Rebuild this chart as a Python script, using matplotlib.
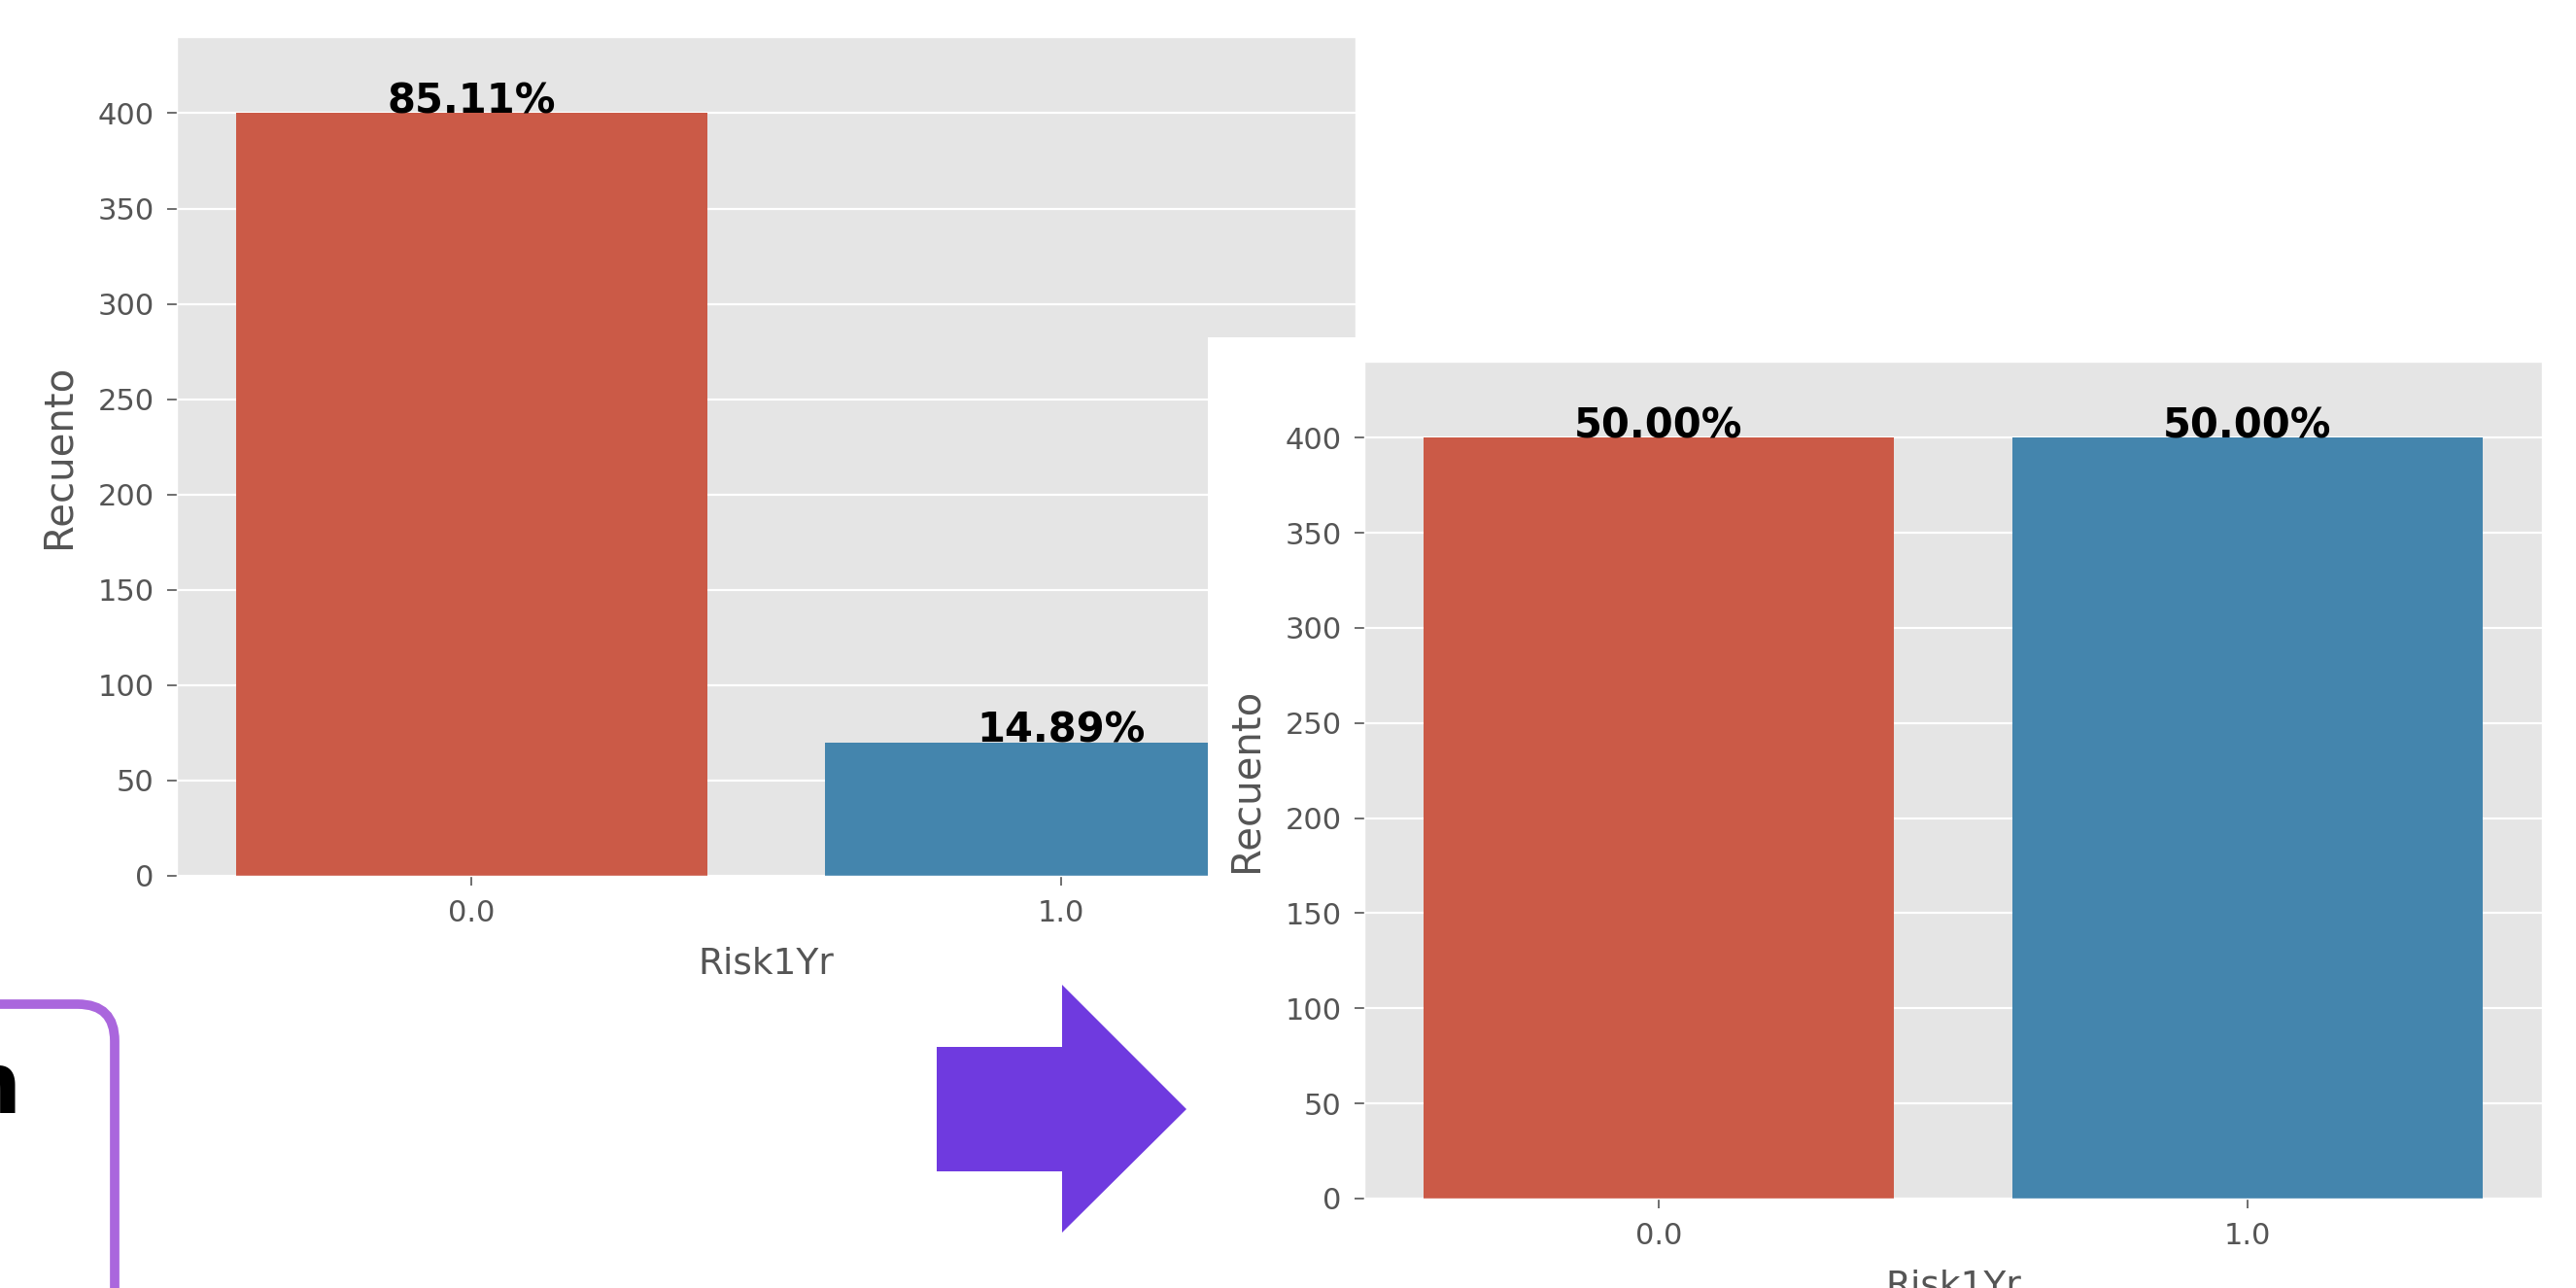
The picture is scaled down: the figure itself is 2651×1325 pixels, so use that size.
import numpy as np
import matplotlib
matplotlib.use("Agg")
import matplotlib.pyplot as plt
from matplotlib.patches import Rectangle, Polygon, FancyBboxPatch
from matplotlib.transforms import Affine2D

# ---- data ----
categories = ["0.0", "1.0"]
counts_before = [400, 70]     # original class balance
counts_after = [400, 400]     # after resampling
bar_colors = ["#CB5A47", "#4485AD"]

W, H = 2651, 1325
DPI = 100

plt.style.use("ggplot")
fig = plt.figure(figsize=(W / DPI, H / DPI), dpi=DPI)

# pixel coords (origin top-left) -> display
px = Affine2D().scale(1 / DPI, -1 / DPI).translate(0, H / DPI) + fig.dpi_scale_trans


def box(x0, y0, x1, y1):
    # axes rect in figure fraction from pixel box
    return [x0 / W, 1 - y1 / H, (x1 - x0) / W, (y1 - y0) / H]


def draw_counts(ax, counts):
    x = np.arange(len(categories))
    ax.bar(x, counts, width=0.8, color=bar_colors, linewidth=0)
    total = sum(counts)
    for xi, c in zip(x, counts):
        ax.text(xi, c, f"{100 * c / total:.2f}%", ha="center", va="baseline",
                fontsize=30, fontweight="bold", color="black")
    ax.set_xticks(x)
    ax.set_xticklabels(categories)
    ax.set_xlim(-0.5, 1.5)
    ax.set_ylim(0, 440)
    ax.set_yticks(np.arange(0, 401, 50))
    ax.grid(True, color="white", lw=1.6)
    ax.grid(False, axis="x")
    ax.tick_params(labelsize=22, length=7, width=1.2, pad=10, colors="#555555")
    ax.set_xlabel("Risk1Yr", fontsize=27, color="#555555", labelpad=14)
    ax.set_ylabel("Recuento", fontsize=29, color="#555555", labelpad=14)


# ---- left chart: before ----
ax1 = fig.add_axes(box(182, 38, 1395, 901), zorder=0)
draw_counts(ax1, counts_before)

# white background of the pasted second chart
fig.add_artist(Rectangle((1243, 347), 1500, 1100, transform=px,
                         facecolor="white", edgecolor="none", zorder=1))

# ---- right chart: after ----
ax2 = fig.add_axes(box(1404, 372, 2616, 1233), zorder=2)
draw_counts(ax2, counts_after)

# ---- purple arrow ----
arrow = Polygon([(964, 1077), (1093, 1077), (1093, 1013), (1221, 1141),
                 (1093, 1268), (1093, 1205), (964, 1205)],
                closed=True, transform=px, facecolor="#6F3ADF",
                edgecolor="none", zorder=3)
fig.add_artist(arrow)

# ---- cropped box on the left ----
frame = FancyBboxPatch((-200, 1033), 318, 500, transform=px,
                       boxstyle="round,pad=0,rounding_size=38",
                       facecolor="none", edgecolor="#AA66DD", lw=7, zorder=3)
fig.add_artist(frame)
fig.text(22 / W, 1 - 1145 / H, "n", ha="right", va="baseline",
         fontsize=63, fontweight="bold", color="black", zorder=4)

fig.savefig("out.png", dpi=DPI, facecolor="white")
